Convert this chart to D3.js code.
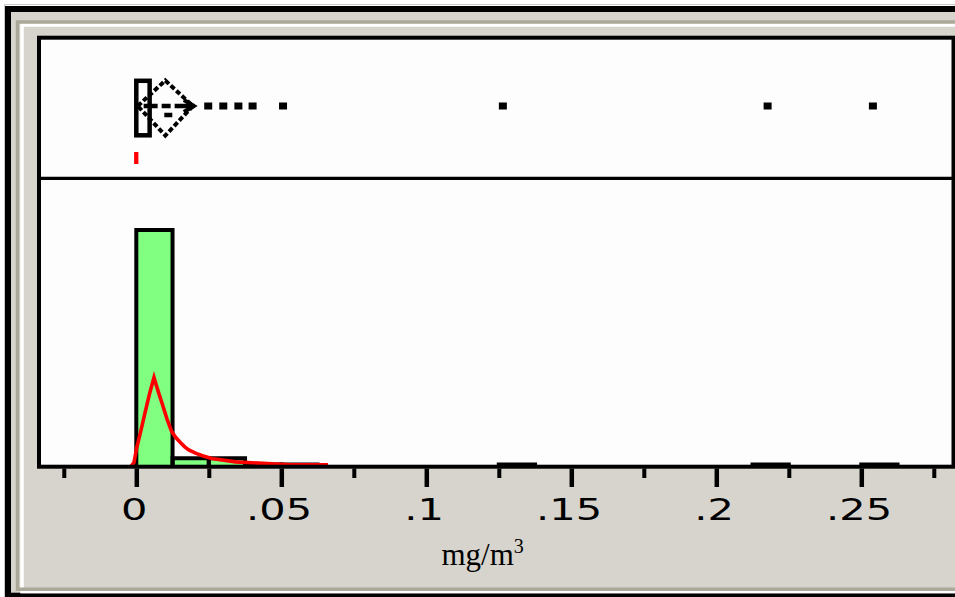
<!DOCTYPE html>
<html><head><meta charset="utf-8">
<script src="https://cdn.jsdelivr.net/npm/d3@7"></script>
<style>html,body{margin:0;padding:0;background:#fff;overflow:hidden}svg{display:block}</style>
</head><body>
<svg id="c" width="955" height="597"></svg>
<script>
// ---- data ----
const binStart = 0;
const binWidth = 0.0125;
const binCounts = [76, 3, 3, 1, 1, 0, 0, 0, 0, 0, 1, 0, 0, 0, 0, 0, 0, 1, 0, 0, 1];
const outliers = [0.0248, 0.0300, 0.0352, 0.0401, 0.0506, 0.1264, 0.2177, 0.2540];
const boxQ1 = 0;
const boxQ3 = 0.0046;
const whiskerHigh = 0.0200;
const meanValue = 0.0100;
const meanCIHalf = 0.0095;
const shortestHalf = [0, 0];
const densityX = [-0.00214, -0.0008, 0.0001, 0.0016, 0.0031, 0.0046, 0.0061, 0.0076, 0.0091, 0.0106, 0.0122, 0.0137, 0.0152, 0.0167, 0.0181, 0.0204, 0.0228, 0.026, 0.0342, 0.053, 0.0661];
const densityY = [0, 1.6, 6.1, 11.9, 17.9, 23.7, 28.8, 24.2, 19.9, 15.5, 11.5, 9.5, 8.0, 6.6, 5.6, 4.6, 3.75, 2.9, 1.8, 0.87, 0.87];
const majorTicks = [0, 0.05, 0.1, 0.15, 0.2, 0.25];
const tickLabels = ["0", ".05", ".1", ".15", ".2", ".25"];
const minorTicks = [-0.025, 0.025, 0.075, 0.125, 0.175, 0.225, 0.275];
const axisTitle = "mg/m";
const axisTitleSup = "3";

// ---- drawing ----
const svg = d3.select("#c");
const GRAY = "#d7d4cd", DARK = "#aca899", GREEN = "#80ff80";

// window frame
svg.append("rect").attr("x", 0).attr("y", 0).attr("width", 955).attr("height", 597).attr("fill", "#fff");
svg.append("line").attr("x1", 4.5).attr("x2", 955).attr("y1", 4.5).attr("y2", 4.5).attr("stroke", "#c8c8c8").attr("stroke-width", 1);
svg.append("line").attr("x1", 4.5).attr("x2", 4.5).attr("y1", 4.5).attr("y2", 597).attr("stroke", "#c8c8c8").attr("stroke-width", 1);
svg.append("rect").attr("x", 5).attr("y", 6).attr("width", 1000).attr("height", 600).attr("fill", "#000");
svg.append("rect").attr("x", 11).attr("y", 12).attr("width", 1000).attr("height", 580.7).attr("fill", GRAY);
svg.append("rect").attr("x", 22).attr("y", 25).attr("width", 1000).attr("height", 566.7)
  .attr("fill", "none").attr("stroke", "#fff").attr("stroke-width", 3.5);
svg.append("rect").attr("x", 17.5).attr("y", 22).attr("width", 1000).attr("height", 567.2)
  .attr("fill", "none").attr("stroke", DARK).attr("stroke-width", 3.5);
svg.append("rect").attr("x", 24).attr("y", 27).attr("width", 1000).attr("height", 559.7).attr("fill", GRAY);

// plot area
const PL = 39, PT = 37.7, PR = 953.5, PB = 466.7;
svg.append("rect").attr("x", PL).attr("y", PT).attr("width", PR - PL).attr("height", PB - PT).attr("fill", "#fdfdfd");

const x = d3.scaleLinear().domain([0, 0.25]).range([136.3, 861.3]);
const y = d3.scaleLinear().domain([0, 76]).range([467.5, 230]);

svg.append("clipPath").attr("id", "hclip").append("rect")
  .attr("x", PL).attr("y", 180).attr("width", PR - PL).attr("height", 466 - 180);
const hg = svg.append("g").attr("clip-path", "url(#hclip)");

const bins = binCounts.map((c, i) => ({x0: binStart + i * binWidth, x1: binStart + (i + 1) * binWidth, c}))
  .filter(d => d.c > 0);
hg.selectAll("rect.bar").data(bins).join("rect").attr("class", "bar")
  .attr("x", d => x(d.x0)).attr("width", d => x(d.x1) - x(d.x0))
  .attr("y", d => y(d.c)).attr("height", d => y(0) - y(d.c))
  .attr("fill", GREEN);
hg.selectAll("path.barOutline").data(bins).join("path").attr("class", "barOutline")
  .attr("d", d => `M${x(d.x0)},${y(0) + 3}V${y(d.c)}H${x(d.x1)}V${y(0) + 3}`)
  .attr("fill", "none").attr("stroke", "#000").attr("stroke-width", 4).attr("stroke-linejoin", "miter");

const dens = densityX.map((v, i) => [v, densityY[i]]);
hg.append("path").datum(dens)
  .attr("d", d3.line().x(d => x(d[0])).y(d => y(d[1])))
  .attr("fill", "none").attr("stroke", "#ff0000").attr("stroke-width", 3.6).attr("stroke-linejoin", "miter");

// plot border and divider
svg.append("rect").attr("x", PL).attr("y", PT).attr("width", PR - PL).attr("height", PB - PT)
  .attr("fill", "none").attr("stroke", "#000").attr("stroke-width", 4);
svg.append("line").attr("x1", PL).attr("x2", PR).attr("y1", 178.3).attr("y2", 178.3)
  .attr("stroke", "#000").attr("stroke-width", 3.3);

// axis
const axisY = 468.5;
const gMinor = svg.append("g").attr("transform", `translate(0,${axisY})`)
  .call(d3.axisBottom(x).tickValues(minorTicks).tickSize(9.5).tickFormat(""));
gMinor.select(".domain").remove();
gMinor.selectAll(".tick line").attr("stroke", "#000").attr("stroke-width", 4);

const gMajor = svg.append("g").attr("transform", `translate(0,${axisY})`)
  .call(d3.axisBottom(x).tickValues(majorTicks).tickSize(18.5).tickFormat((d, i) => tickLabels[i]));
gMajor.select(".domain").remove();
gMajor.selectAll(".tick line").attr("stroke", "#000").attr("stroke-width", 4.5);
gMajor.selectAll(".tick text")
  .attr("x", -2).attr("y", 51.5).attr("dy", 0)
  .attr("transform", "scale(1.34,1)")
  .attr("fill", "#000")
  .style("font-family", "'DejaVu Sans', sans-serif")
  .style("font-size", "31px");

const title = svg.append("text").attr("x", 441.5).attr("y", 565)
  .style("font-family", "'Liberation Serif', 'Times New Roman', serif")
  .style("font-size", "31px").attr("fill", "#000");
title.append("tspan").text(axisTitle);
title.append("tspan").attr("dy", -12).style("font-size", "20px").text(axisTitleSup);

// box plot
const cy = 106;
const bg = svg.append("g");
bg.append("rect").attr("x", x(boxQ1)).attr("y", 80.8).attr("width", x(boxQ3) - x(boxQ1)).attr("height", 54.5)
  .attr("fill", "none").attr("stroke", "#000").attr("stroke-width", 4.5);
bg.append("line").attr("x1", x(boxQ3) - 6).attr("x2", x(whiskerHigh)).attr("y1", cy).attr("y2", cy)
  .attr("stroke", "#000").attr("stroke-width", 4.5).attr("stroke-dasharray", "14,4,9,4,40");
const dl = x(meanValue - meanCIHalf), dr = x(meanValue + meanCIHalf), dm = x(meanValue);
bg.append("path").attr("d", `M${dl},${cy}L${dm},80.5L${dr},${cy}L${dm},135.5Z`)
  .attr("fill", "none").attr("stroke", "#000").attr("stroke-width", 4).attr("stroke-dasharray", "5,2.5");
bg.append("path").attr("d", `M${dr - 9},${cy - 6}L${dr + 1},${cy}L${dr - 9},${cy + 6}`)
  .attr("fill", "none").attr("stroke", "#000").attr("stroke-width", 4);
bg.append("line").attr("x1", x(meanValue) - 1).attr("x2", x(meanValue) + 7).attr("y1", 115).attr("y2", 115)
  .attr("stroke", "#000").attr("stroke-width", 4.5);
bg.selectAll("rect.out").data(outliers).join("rect").attr("class", "out")
  .attr("x", d => x(d) - 4).attr("y", cy - 3.5).attr("width", 8).attr("height", 7).attr("fill", "#000");
bg.append("rect").attr("x", x(shortestHalf[0]) - 2.2).attr("y", 152)
  .attr("width", x(shortestHalf[1]) - x(shortestHalf[0]) + 4.3).attr("height", 12).attr("fill", "#ff0000");
</script>
</body></html>
